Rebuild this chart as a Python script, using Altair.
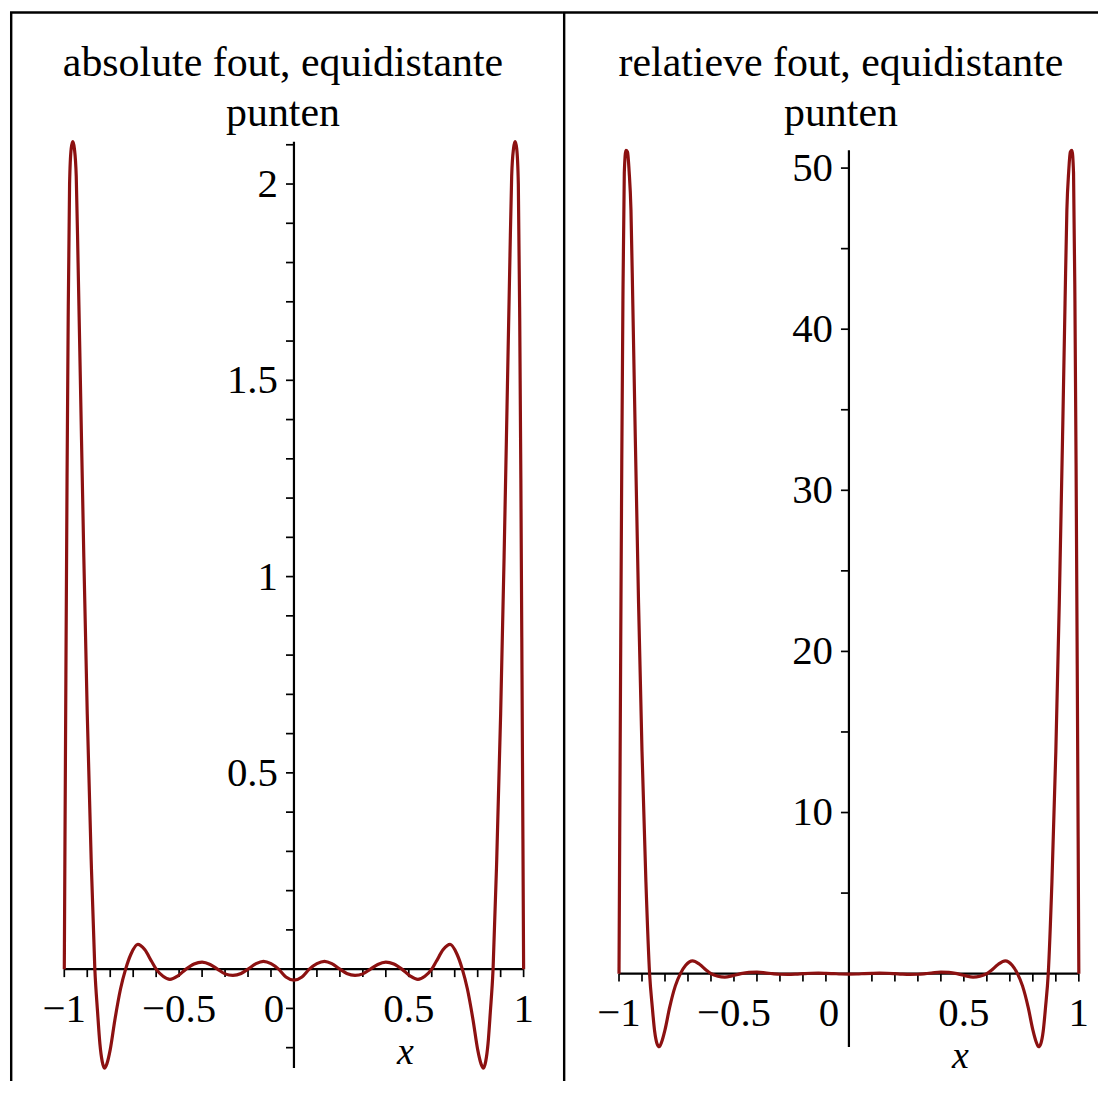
import altair as alt
import pandas as pd

# ---- data ----
X = [-1.0, -0.997, -0.993, -0.988, -0.983, -0.977, -0.970, -0.963, -0.956, -0.948,
     -0.940, -0.930, -0.915, -0.900, -0.883, -0.867, -0.855, -0.845, -0.835, -0.825,
     -0.815, -0.800, -0.780, -0.755, -0.733, -0.710, -0.680, -0.650, -0.620, -0.600,
     -0.570, -0.540, -0.505, -0.470, -0.435, -0.400, -0.365, -0.333, -0.300, -0.266,
     -0.230, -0.200, -0.165, -0.133, -0.100, -0.067, -0.035, 0.0,
     0.035, 0.067, 0.100, 0.133, 0.165, 0.200, 0.230, 0.266, 0.300, 0.333,
     0.365, 0.400, 0.435, 0.470, 0.505, 0.540, 0.570, 0.600, 0.620, 0.650,
     0.680, 0.710, 0.733, 0.755, 0.780, 0.800, 0.815, 0.825, 0.835, 0.845,
     0.855, 0.867, 0.883, 0.900, 0.915, 0.930, 0.940, 0.948, 0.956, 0.963,
     0.970, 0.977, 0.983, 0.988, 0.993, 0.997, 1.0]

ABS_ERR = [0.0, 0.33, 0.75, 1.25, 1.66, 2.00, 2.09, 2.108, 2.09, 2.02,
           1.80, 1.50, 1.05, 0.65, 0.28, 0.0, -0.11, -0.19, -0.235, -0.252,
           -0.242, -0.205, -0.13, -0.05, 0.0, 0.038, 0.063, 0.05, 0.02, 0.0,
           -0.018, -0.026, -0.017, 0.0, 0.013, 0.018, 0.012, 0.0, -0.012, -0.016,
           -0.011, 0.0, 0.014, 0.02, 0.014, 0.0, -0.02, -0.028,
           -0.02, 0.0, 0.014, 0.02, 0.014, 0.0, -0.011, -0.016, -0.012, 0.0,
           0.012, 0.018, 0.013, 0.0, -0.017, -0.026, -0.018, 0.0, 0.02, 0.05,
           0.063, 0.038, 0.0, -0.05, -0.13, -0.205, -0.242, -0.252, -0.235, -0.19,
           -0.11, 0.0, 0.28, 0.65, 1.05, 1.50, 1.80, 2.02, 2.09, 2.108,
           2.09, 2.00, 1.66, 1.25, 0.75, 0.33, 0.0]

REL_ERR = [0.0, 8.5, 19.2, 31.7, 41.8, 49.7, 51.1, 51.0, 49.8, 47.4,
           41.6, 33.9, 23.0, 13.8, 5.7, 0.0, -2.12, -3.58, -4.33, -4.54,
           -4.26, -3.49, -2.11, -0.76, 0.0, 0.52, 0.79, 0.58, 0.21, 0.0,
           -0.164, -0.216, -0.125, 0.0, 0.075, 0.09, 0.052, 0.0, -0.039, -0.044,
           -0.026, 0.0, 0.024, 0.029, 0.018, 0.0, -0.021, -0.028,
           -0.021, 0.0, 0.018, 0.029, 0.024, 0.0, -0.026, -0.044, -0.039, 0.0,
           0.052, 0.09, 0.075, 0.0, -0.125, -0.216, -0.164, 0.0, 0.21, 0.58,
           0.79, 0.52, 0.0, -0.76, -2.11, -3.49, -4.26, -4.54, -4.33, -3.58,
           -2.12, 0.0, 5.7, 13.8, 23.0, 33.9, 41.6, 47.4, 49.8, 51.0,
           51.1, 49.7, 41.8, 31.7, 19.2, 8.5, 0.0]

X_TICKS = [-1.0, -0.9, -0.8, -0.7, -0.6, -0.5, -0.4, -0.3, -0.2, -0.1, 0.0,
           0.1, 0.2, 0.3, 0.4, 0.5, 0.6, 0.7, 0.8, 0.9, 1.0]
X_LABEL_VALUES = [-1.0, -0.5, 0.5, 1.0]
X_LABEL_TEXT = ["\u22121", "\u22120.5", "0.5", "1"]
ZERO_LABEL = "0"

Y_TICKS_ABS = [-0.2, -0.1, 0.1, 0.2, 0.3, 0.4, 0.5, 0.6, 0.7, 0.8, 0.9, 1.0,
               1.1, 1.2, 1.3, 1.4, 1.5, 1.6, 1.7, 1.8, 1.9, 2.0, 2.1]
Y_LABEL_VALUES_ABS = [0.5, 1.0, 1.5, 2.0]
Y_LABEL_TEXT_ABS = ["0.5", "1", "1.5", "2"]

Y_TICKS_REL = [5, 10, 15, 20, 25, 30, 35, 40, 45, 50]
Y_LABEL_VALUES_REL = [10, 20, 30, 40, 50]
Y_LABEL_TEXT_REL = ["10", "20", "30", "40", "50"]

TITLE_ABS = ["absolute fout, equidistante", "punten"]
TITLE_REL = ["relatieve fout, equidistante", "punten"]
AXIS_TITLE = "x"
X_RANGE = [-1.0, 1.0]
Y_RANGE_ABS = [-0.252, 2.108]
Y_RANGE_REL = [-4.55, 51.1]

df = pd.DataFrame({"x": X, "abs": ABS_ERR, "rel": REL_ERR})
one = pd.DataFrame({"k": [0]})
xt_df = pd.DataFrame({"v": X_TICKS})
xl_df = pd.DataFrame({"v": X_LABEL_VALUES, "t": X_LABEL_TEXT})

FONT = "Liberation Serif"
RED = "#8C1111"
H = 1075


def panel(col, width, xdom, ydom, y_ticks, y_lab_v, y_lab_t, title, title_x, yrange, frame_left):
    sx = alt.Scale(domain=xdom, nice=False, zero=False)
    sy = alt.Scale(domain=ydom, nice=False, zero=False)
    base = alt.Chart(one)
    yt_df = pd.DataFrame({"v": y_ticks})
    yl_df = pd.DataFrame({"v": y_lab_v, "t": y_lab_t})

    x_line = base.mark_rule(color="black", strokeWidth=2.2).encode(
        x=alt.XDatum(X_RANGE[0], scale=sx, axis=None),
        x2=alt.X2Datum(X_RANGE[1]),
        y=alt.YDatum(0, scale=sy, axis=None),
    )
    y_line = base.mark_rule(color="black", strokeWidth=2.2).encode(
        x=alt.XDatum(0, scale=sx, axis=None),
        y=alt.YDatum(yrange[0], scale=sy, axis=None),
        y2=alt.Y2Datum(yrange[1]),
    )
    x_ticks = alt.Chart(xt_df).mark_rule(color="black", strokeWidth=1.7, y2Offset=8).encode(
        x=alt.X("v:Q", scale=sx, axis=None),
        y=alt.YDatum(0, scale=sy, axis=None),
        y2=alt.Y2Datum(0),
    )
    y_ticks_m = alt.Chart(yt_df).mark_rule(color="black", strokeWidth=1.7, x2Offset=-8).encode(
        y=alt.Y("v:Q", scale=sy, axis=None),
        x=alt.XDatum(0, scale=sx, axis=None),
        x2=alt.X2Datum(0),
    )
    x_labels = alt.Chart(xl_df).mark_text(font=FONT, fontSize=41, color="black",
                                          align="center", baseline="alphabetic", dy=53).encode(
        x=alt.X("v:Q", scale=sx, axis=None),
        y=alt.YDatum(0, scale=sy, axis=None),
        text="t:N",
    )
    zero_label = base.mark_text(text=ZERO_LABEL, font=FONT, fontSize=41, color="black",
                                align="center", baseline="alphabetic", dx=-20, dy=53).encode(
        x=alt.XDatum(0, scale=sx, axis=None),
        y=alt.YDatum(0, scale=sy, axis=None),
    )
    y_labels = alt.Chart(yl_df).mark_text(font=FONT, fontSize=41, color="black",
                                          align="right", baseline="alphabetic", dx=-16, dy=13).encode(
        y=alt.Y("v:Q", scale=sy, axis=None),
        x=alt.XDatum(0, scale=sx, axis=None),
        text="t:N",
    )
    x_title = base.mark_text(text=AXIS_TITLE, font=FONT, fontSize=38, fontStyle="italic",
                             align="center", baseline="alphabetic", dy=95, color="black").encode(
        x=alt.XDatum(0.485, scale=sx, axis=None),
        y=alt.YDatum(0, scale=sy, axis=None),
    )
    line = alt.Chart(df).mark_line(color=RED, strokeWidth=3.2, interpolate="monotone").encode(
        x=alt.X("x:Q", scale=sx, axis=None),
        y=alt.Y(f"{col}:Q", scale=sy, axis=None),
    )
    ttl = base.mark_text(text=title, font=FONT, fontSize=42, lineHeight=50,
                         align="center", baseline="alphabetic", color="black").encode(
        x=alt.value(title_x), y=alt.value(66))
    top = base.mark_rule(color="black", strokeWidth=2.4).encode(
        x=alt.value(0), x2=alt.value(width), y=alt.value(2.5))
    sep = base.mark_rule(color="black", strokeWidth=2.4).encode(
        x=alt.value(frame_left), y=alt.value(2.5), y2=alt.value(H))
    layers = [top, sep, x_line, y_line, x_ticks, y_ticks_m, x_labels, zero_label,
              y_labels, x_title, ttl, line]
    return alt.layer(*layers).properties(width=width, height=H)


# left panel: x=0 at local 285, 230.5 px/unit; y=0 at local 962.7, 394 px/unit
WL = 555
left = panel("abs", WL, [-285 / 230.5, (WL - 285) / 230.5],
             [-(H - 962.7) / 394, 962.7 / 394], Y_TICKS_ABS,
             Y_LABEL_VALUES_ABS, Y_LABEL_TEXT_ABS, TITLE_ABS, 274, Y_RANGE_ABS, 1.2)

# right panel: x=0 at local 287, 230.75 px/unit; y=0 at local 967.2, 16.17 px/unit
WR = 537
right = panel("rel", WR, [-287 / 230.75, (WR - 287) / 230.75],
              [-(H - 967.2) / 16.17, 967.2 / 16.17], Y_TICKS_REL,
              Y_LABEL_VALUES_REL, Y_LABEL_TEXT_REL, TITLE_REL, 279, Y_RANGE_REL, 1.2)

chart = alt.hconcat(left, right, spacing=0, bounds="flush", padding=0).configure_view(stroke=None)

chart.save("out.html", embed_options={"renderer": "svg", "actions": False})
